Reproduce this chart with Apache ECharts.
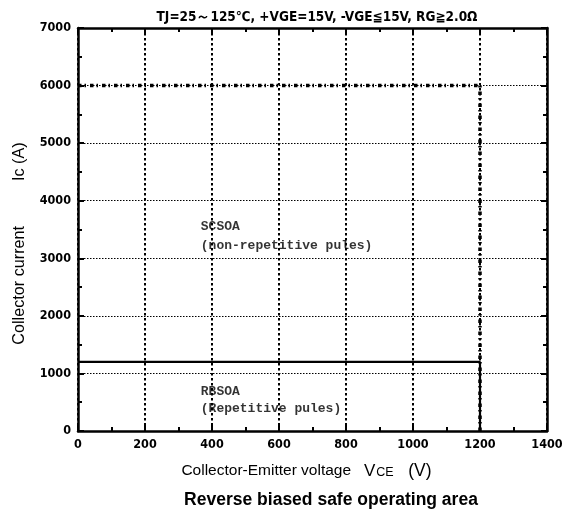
<!DOCTYPE html>
<html><head><meta charset="utf-8">
<script src="https://cdn.jsdelivr.net/npm/echarts@6/dist/echarts.min.js"></script>
<style>html,body{margin:0;padding:0;background:#fff}#c{width:567px;height:515px}</style>
</head><body><div id="c"></div>
<script>
const scsoaVoltage = [0, 1200, 1200];
const scsoaCurrent = [6000, 6000, 0];
const rbsoaVoltage = [0, 1200, 1200];
const rbsoaCurrent = [1200, 1200, 0];
const xTicks = [0, 200, 400, 600, 800, 1000, 1200, 1400];
const yTicks = [0, 1000, 2000, 3000, 4000, 5000, 6000, 7000];
const conditionText = 'TJ=25～125℃, +VGE=15V, -VGE≦15V, RG≧2.0Ω';
const noteTexts = ['SCSOA', '(non-repetitive pules)', 'RBSOA', '(Repetitive pules)'];

// annotation anchors (data units), kept apart from the data
const noteAnchors = [[365, 3540], [365, 3210], [365, 685], [365, 395]];

const condFont = '"DejaVu Sans Condensed",sans-serif';
const armFont = 'Liberation Sans, Arial, sans-serif';
const zip = (a, b) => a.map((v, i) => [v, b[i]]);

const tick = () => ({ show: true, inside: true, length: 6, lineStyle: { color: '#000', width: 2 } });
const minor = () => ({ show: true, splitNumber: 2, length: 4, lineStyle: { color: '#000', width: 2 } });
const axLine = () => ({ show: true, onZero: false, lineStyle: { color: '#000', width: 2.5 } });

const chart = echarts.init(document.getElementById('c'));
chart.setOption({
  animation: false,
  title: [
    { text: conditionText, left: 312, top: 5, textAlign: 'center',
      textStyle: { fontFamily: condFont, fontWeight: 'bold', fontSize: 13.5, color: '#000' } },
    { text: 'Reverse biased safe operating area', left: 326, top: 486, textAlign: 'center',
      textStyle: { fontFamily: armFont, fontWeight: 'bold', fontSize: 17.5, color: '#000' } }
  ],
  grid: { left: 78, right: 20, top: 28, bottom: 84 },
  xAxis: [{
    type: 'value', min: 0, max: 1400, interval: 200,
    name: '{a|Collector-Emitter voltage   }{v|V}{s|CE}{b|   (V)}',
    nameLocation: 'middle', nameGap: 31,
    nameTextStyle: { padding: [0, 12, 0, 0], rich: {
      a: { fontFamily: armFont, fontSize: 15.5, color: '#000' },
      v: { fontFamily: armFont, fontSize: 17, color: '#000' },
      b: { fontFamily: armFont, fontSize: 17.5, color: '#000' },
      s: { fontFamily: armFont, fontSize: 12.5, color: '#000', padding: [4, 0, 0, 1] } } },
    axisLine: axLine(), axisTick: tick(), minorTick: minor(),
    axisLabel: { formatter: v => xTicks.includes(v) ? String(v) : '', fontFamily: condFont, fontWeight: 'bold', fontSize: 12.5, color: '#000', margin: 7 },
    splitLine: { show: true, lineStyle: { color: '#000', width: 2, type: [2.5, 2.5] } }
  }, {
    type: 'value', position: 'top', min: 0, max: 1400, interval: 200,
    axisLine: axLine(), axisTick: tick(), minorTick: minor(),
    axisLabel: { show: false }, splitLine: { show: false }
  }],
  yAxis: [{
    type: 'value', min: 0, max: 7000, interval: 1000,
    name: 'Collector current          Ic (A)', nameLocation: 'middle', nameGap: 50, nameRotate: 90,
    nameTextStyle: { fontFamily: armFont, fontSize: 16.2, color: '#000', padding: [0, 0, 0, -28] },
    axisLine: axLine(), axisTick: tick(), minorTick: minor(),
    axisLabel: { formatter: v => yTicks.includes(v) ? String(v) : '', fontFamily: condFont, fontWeight: 'bold', fontSize: 12.5, color: '#000', margin: 7 },
    splitLine: { show: true, lineStyle: { color: '#000', width: 1, type: [1.5, 1.5] } }
  }, {
    type: 'value', position: 'right', min: 0, max: 7000, interval: 1000,
    axisLine: axLine(), axisTick: tick(), minorTick: minor(),
    axisLabel: { show: false }, splitLine: { show: false }
  }],
  series: [{
    name: 'SCSOA', type: 'line', data: zip(scsoaVoltage, scsoaCurrent),
    symbol: 'none', lineStyle: { color: '#000', width: 3.5, type: [3.5, 3, 1.5, 4] }
  }, {
    name: 'RBSOA', type: 'line', data: zip(rbsoaVoltage, rbsoaCurrent),
    symbol: 'none', lineStyle: { color: '#000', width: 2.2 }
  }, {
    type: 'scatter', symbolSize: 1, itemStyle: { color: 'rgba(0,0,0,0)' },
    data: noteAnchors.map((c, i) => ({ value: c, name: noteTexts[i] })),
    label: { show: true, position: 'right', distance: 0, formatter: p => p.name,
      fontFamily: '"Liberation Mono","DejaVu Sans Mono",monospace', fontWeight: 'bold', fontSize: 13, color: '#000' }
  }]
});
</script></body></html>
